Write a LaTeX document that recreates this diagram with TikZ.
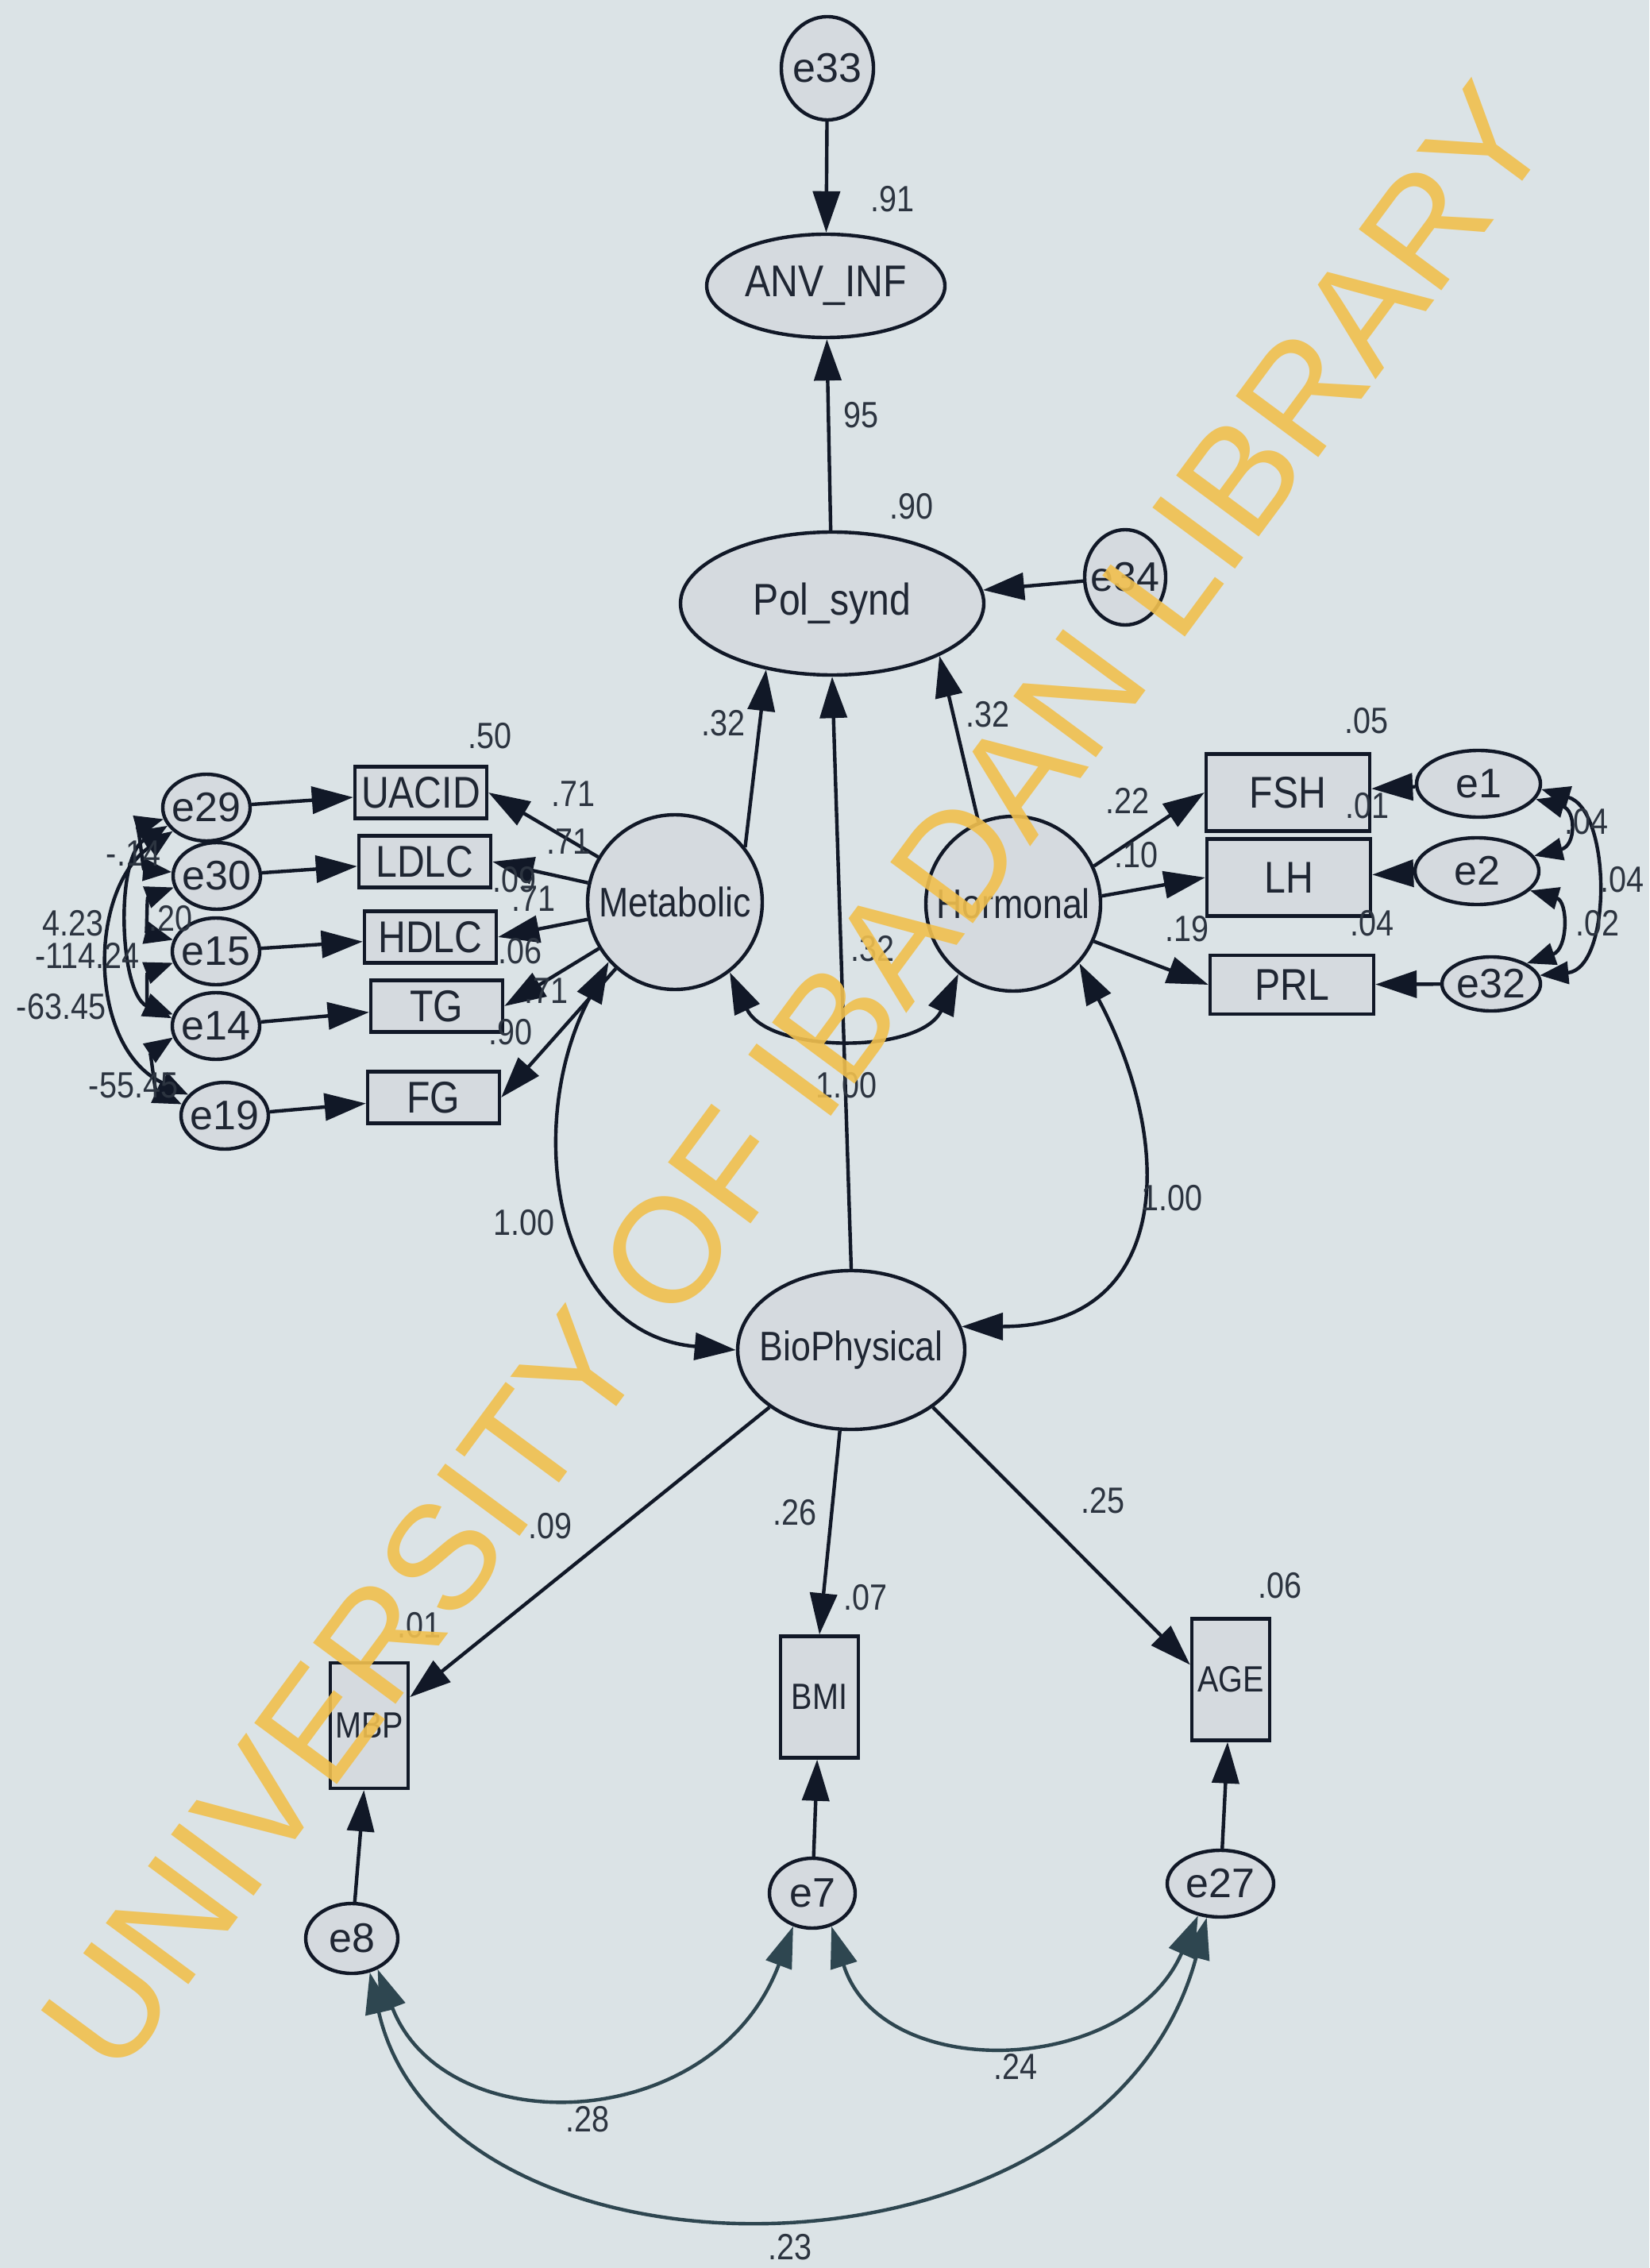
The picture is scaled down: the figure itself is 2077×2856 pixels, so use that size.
\documentclass[tikz,border=0pt]{standalone}
\usepackage{fontspec}
\setmainfont{Liberation Sans}[FakeStretch=0.86]
\newfontfamily\plainfont{Liberation Sans}
\usetikzlibrary{arrows.meta,shapes.geometric}
\definecolor{bg}{HTML}{DBE3E6}
\definecolor{nfill}{HTML}{D5DADF}
\definecolor{ink}{HTML}{111827}
\definecolor{txt}{HTML}{1F2633}
\definecolor{lab}{HTML}{2C3440}
\definecolor{arcc}{HTML}{2E4650}
\definecolor{wm}{HTML}{F1C04E}
\newcommand\zb[1]{\makebox[0pt]{#1}}
\begin{document}
\begin{tikzpicture}[x=0.25pt,y=0.25pt,
  every node/.style={inner sep=0pt, text=txt},
  lat/.style={ellipse, draw=ink, line width=1.1pt, fill=nfill, font=\fontsize{14}{16}\selectfont},
  latc/.style={ellipse, draw=ink, line width=1.1pt, fill=nfill, font=\fontsize{13}{15}\selectfont},
  obs/.style={rectangle, draw=ink, line width=1.1pt, fill=nfill, font=\fontsize{14}{16}\selectfont},
  tall/.style={rectangle, draw=ink, line width=1.1pt, fill=nfill, font=\fontsize{11.5}{14}\selectfont},
  err/.style={ellipse, draw=ink, line width=1.1pt, fill=nfill, font=\plainfont\fontsize{13}{15}\selectfont},
  lbl/.style={font=\fontsize{11.5}{13}\selectfont, text=lab},
  arr/.style={draw=ink, line width=1.1pt, -{Triangle[length=13pt,width=8.5pt]}},
  cov/.style={draw=ink, line width=1.1pt, {Triangle[length=13pt,width=8.5pt]}-{Triangle[length=13pt,width=8.5pt]}},
  scov/.style={draw=ink, line width=1.1pt, {Triangle[length=9pt,width=7pt]}-{Triangle[length=9pt,width=7pt]}},
]
\fill[bg] (0,0) rectangle (2077,-2856);
\useasboundingbox (0,0) rectangle (2077,-2856);

% ---- main latent nodes
\node[err, minimum width=29pt, minimum height=32.5pt] (e33) at (1042,-86) {\zb{e33}};
\node[lat, minimum width=75pt, minimum height=32.5pt] (anv) at (1040,-360) {\zb{ANV\_INF}};
\node[lat, minimum width=95.5pt, minimum height=45pt] (pol) at (1048,-760) {\zb{Pol\_synd}};
\node[err, minimum width=25.5pt, minimum height=30pt] (e34) at (1417,-727) {\zb{e34}};
\node[latc, minimum width=55pt, minimum height=55pt] (met) at (850,-1136) {\zb{Metabolic}};
\node[latc, minimum width=55pt, minimum height=55pt] (hor) at (1276,-1138) {\zb{Hormonal}};
\node[latc, minimum width=71.5pt, minimum height=50pt] (bio) at (1072,-1700) {\zb{BioPhysical}};

% ---- left indicators
\node[obs, minimum width=41.5pt, minimum height=16.25pt] (uacid) at (530,-998) {UACID};
\node[obs, minimum width=41.5pt, minimum height=16.25pt] (ldlc) at (535,-1085) {LDLC};
\node[obs, minimum width=41.5pt, minimum height=16.25pt] (hdlc) at (542,-1180) {HDLC};
\node[obs, minimum width=41.5pt, minimum height=16.25pt] (tg) at (550,-1267) {TG};
\node[obs, minimum width=41.5pt, minimum height=16.25pt] (fg) at (546,-1382) {FG};
\node[err, minimum width=27.5pt, minimum height=21pt] (e29) at (260,-1017) {\zb{e29}};
\node[err, minimum width=27.5pt, minimum height=21pt] (e30) at (273,-1103) {\zb{e30}};
\node[err, minimum width=27.5pt, minimum height=21pt] (e15) at (272,-1198) {\zb{e15}};
\node[err, minimum width=27.5pt, minimum height=21pt] (e14) at (272,-1292) {\zb{e14}};
\node[err, minimum width=27.5pt, minimum height=21pt] (e19) at (283,-1405) {\zb{e19}};

% ---- right indicators
\node[obs, minimum width=51.5pt, minimum height=24.25pt] (fsh) at (1622,-998) {FSH};
\node[obs, minimum width=51.5pt, minimum height=24.25pt] (lh) at (1623,-1105) {LH};
\node[obs, minimum width=51.5pt, minimum height=18.5pt] (prl) at (1627,-1240) {PRL};
\node[err, minimum width=39pt, minimum height=21pt] (e1) at (1862,-987) {\zb{e1}};
\node[err, minimum width=39pt, minimum height=21pt] (e2) at (1860,-1097) {\zb{e2}};
\node[err, minimum width=31pt, minimum height=17pt] (e32) at (1878,-1239) {\zb{e32}};

% ---- bottom indicators
\node[tall, minimum width=24.5pt, minimum height=39.5pt] (mbp) at (465,-2173) {\zb{MBP}};
\node[tall, minimum width=24.5pt, minimum height=38.25pt] (bmi) at (1032,-2137) {\zb{BMI}};
\node[tall, minimum width=24.5pt, minimum height=38.25pt] (age) at (1550,-2115) {\zb{AGE}};
\node[err, minimum width=29pt, minimum height=22pt] (e8) at (443,-2441) {\zb{e8}};
\node[err, minimum width=27pt, minimum height=22pt] (e7) at (1023,-2384) {\zb{e7}};
\node[err, minimum width=33.5pt, minimum height=21pt] (e27) at (1537,-2372) {\zb{e27}};

% ---- directed paths
\draw[arr] (e33) -- (anv);
\draw[arr] (pol) -- (anv);
\draw[arr] (e34) -- (pol);
\draw[arr] (met.38) -- (pol.-135);
\draw[arr] (hor.113) -- (pol.-26);
\draw[arr] (bio.north) -- (pol.south);

\draw[arr] (met) -- (uacid.east);
\draw[arr] (met) -- (ldlc.east);
\draw[arr] (met) -- (hdlc.east);
\draw[arr] (met) -- (tg.east);
\draw[arr] (met) -- (fg.east);
\draw[arr] (e29) -- (uacid);
\draw[arr] (e30) -- (ldlc);
\draw[arr] (e15) -- (hdlc);
\draw[arr] (e14) -- (tg);
\draw[arr] (e19) -- (fg);

\draw[arr] (hor.25) -- (fsh.west);
\draw[arr] (hor.5) -- (lh.west);
\draw[arr] (hor.-25) -- (prl.west);
\draw[arr] (e1) -- (fsh);
\draw[arr] (e2) -- (lh);
\draw[arr] (e32) -- (prl);

\draw[arr] (bio.-145) -- (mbp.35);
\draw[arr] (bio.-98) -- (bmi.north);
\draw[arr] (bio.-35) -- (age.160);
\draw[arr] (e8) -- (mbp);
\draw[arr] (e7) -- (bmi);
\draw[arr] (e27) -- (age);

% ---- covariances among latents
\draw[cov] (met.-52) to[out=-65,in=-115] (hor.-128);
\draw[cov] (met.-138) to[out=-118,in=175,looseness=1.15] (bio.west);
\draw[cov] (hor.-42) to[out=-62,in=0,looseness=1.4] (bio.12);

% ---- left error covariances
\draw[scov] (e29.215) .. controls (110,-1120) and (110,-1320) .. (e19.150);
\draw[scov] (e29.205) .. controls (145,-1080) and (150,-1250) .. (e14.170);
\draw[scov] (e29.195) .. controls (175,-1040) and (180,-1095) .. (e30.175);
\draw[scov] (e30.195) .. controls (185,-1130) and (185,-1175) .. (e15.165);
\draw[scov] (e15.195) .. controls (185,-1225) and (185,-1265) .. (e14.165);
\draw[scov] (e14.195) .. controls (190,-1325) and (195,-1375) .. (e19.165);

% ---- right error covariances
\draw[scov] (e1.-15) .. controls (1985,-1020) and (1985,-1065) .. (e2.15);
\draw[scov] (e1.-5) .. controls (2030,-1020) and (2030,-1220) .. (e32.10);
\draw[scov] (e2.-20) .. controls (1975,-1135) and (1975,-1195) .. (e32.30);

% ---- bottom error covariances
\draw[cov, draw=arcc] (e8.-50) .. controls (560,-2700) and (900,-2690) .. (e7.-120);
\draw[cov, draw=arcc] (e7.-60) .. controls (1110,-2625) and (1420,-2615) .. (e27.-125);
\draw[cov, draw=arcc] (e8.-62) .. controls (560,-2900) and (1390,-2900) .. (e27.-112);

% ---- labels
\node[lbl] at (1124,-251) {.91};
\node[lbl] at (1084,-523) {95};
\node[lbl] at (1148,-638) {.90};
\node[lbl] at (911,-911) {.32};
\node[lbl] at (1244,-900) {.32};
\node[lbl] at (1099,-1195) {.32};
\node[lbl] at (1066,-1367) {1.00};
\node[lbl] at (660,-1540) {1.00};
\node[lbl] at (1476,-1509) {1.00};

\node[lbl] at (617,-927) {.50};
\node[lbl] at (722,-1000) {.71};
\node[lbl] at (716,-1060) {.71};
\node[lbl] at (648,-1108) {.09};
\node[lbl] at (672,-1132) {.71};
\node[lbl] at (655,-1198) {.06};
\node[lbl] at (688,-1248) {.71};
\node[lbl] at (643,-1300) {.90};

\node[lbl] at (168,-1075) {-.14};
\node[lbl] at (215,-1157) {.20};
\node[lbl] at (92,-1163) {4.23};
\node[lbl] at (110,-1203) {-114.24};
\node[lbl] at (77,-1268) {-63.45};
\node[lbl] at (168,-1367) {-55.45};

\node[lbl] at (1721,-908) {.05};
\node[lbl] at (1420,-1008) {.22};
\node[lbl] at (1431,-1077) {.10};
\node[lbl] at (1495,-1170) {.19};
\node[lbl] at (1722,-1015) {.01};
\node[lbl] at (1728,-1163) {.04};
\node[lbl] at (1998,-1035) {.04};
\node[lbl] at (2043,-1108) {.04};
\node[lbl] at (2012,-1163) {.02};

\node[lbl] at (693,-1922) {.09};
\node[lbl] at (1001,-1905) {.26};
\node[lbl] at (1389,-1890) {.25};
\node[lbl] at (528,-2047) {.01};
\node[lbl] at (1090,-2012) {.07};
\node[lbl] at (1612,-1997) {.06};
\node[lbl] at (740,-2669) {.28};
\node[lbl] at (1279,-2602) {.24};
\node[lbl] at (995,-2830) {.23};

% ---- watermark
\node[rotate=53.5, text=wm, opacity=0.9, font=\plainfont\fontsize{47}{50}\selectfont] (wmk) at (1002,-1357) {UNIVERSITY OF IBADAN LIBRARY};
\end{tikzpicture}
\end{document}
